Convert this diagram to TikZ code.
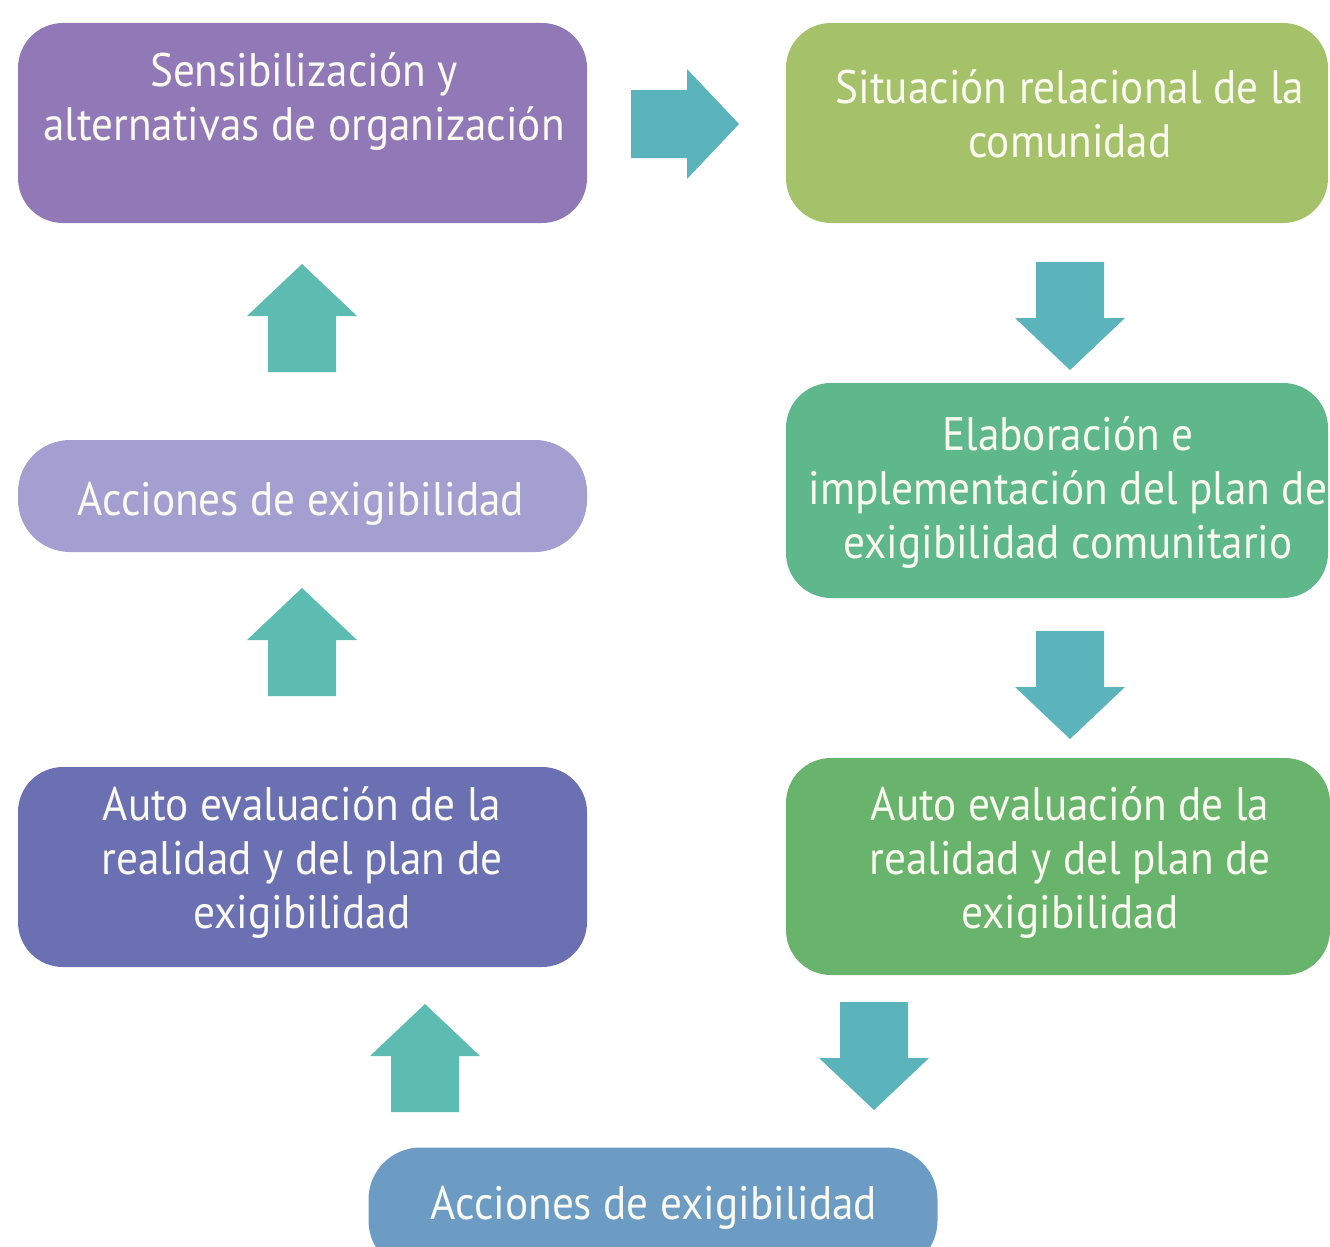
\documentclass[tikz,border=0pt]{standalone}
\usepackage{fontspec}
\setmainfont{PT Sans}[FakeStretch=0.92]
\definecolor{cPurple}{HTML}{9079B6}
\definecolor{cOlive}{HTML}{A5C26A}
\definecolor{cTeal}{HTML}{5FB88C}
\definecolor{cGreen}{HTML}{68B46C}
\definecolor{cIndigo}{HTML}{6B70B3}
\definecolor{cLilac}{HTML}{A49FD0}
\definecolor{cSteel}{HTML}{6C9BC3}
\definecolor{arrUp}{HTML}{5DBCB1}
\definecolor{arrDown}{HTML}{5BB4BC}
\definecolor{txtCol}{HTML}{FAFAF0}
\tikzset{
  box/.style={rounded corners=45pt, inner sep=0pt, draw=none},
  pill/.style={rounded corners=52pt, inner sep=0pt, draw=none},
  txt/.style={text=txtCol, align=center, inner sep=0pt, anchor=base,
    font=\fontsize{47}{54}\selectfont},
  blockup/.pic={\fill (-34,54) -- (-34,-2) -- (-55,-2) -- (0,-54) -- (55,-2) -- (34,-2) -- (34,54) -- cycle;}
}
\begin{document}
\begin{tikzpicture}[x=1pt,y=-1pt]
\fill[white] (0,0) rectangle (1330,1247);
\clip (0,0) rectangle (1330,1247);
% boxes
\node[box, fill=cPurple, minimum width=569pt, minimum height=200pt] (b1) at (302.5,123) {};
\node[box, fill=cOlive, minimum width=542pt, minimum height=200pt] (b2) at (1057,123) {};
\node[box, fill=cTeal, minimum width=542pt, minimum height=215pt] (b3) at (1057,490.5) {};
\node[box, fill=cGreen, minimum width=544pt, minimum height=217pt] (b4) at (1058,866.5) {};
\node[box, fill=cIndigo, minimum width=569pt, minimum height=200pt] (b5) at (302.5,867) {};
\node[pill, fill=cLilac, minimum width=569pt, minimum height=112pt] (b6) at (302.5,496) {};
\node[pill, fill=cSteel, minimum width=569pt, minimum height=125pt] (b7) at (653,1210) {};
% texts (anchor = baseline of last line)
\node[txt] (t1) at (304,140) {Sensibilización y\\alternativas de organización};
\node[txt] (t2) at (1070,157) {Situación relacional de la\\comunidad};
\node[txt] (t3) at (1068,558) {Elaboración e\\implementación del plan de\\exigibilidad comunitario};
\node[txt] (t4) at (1070,928) {Auto evaluación de la\\realidad y del plan de\\exigibilidad};
\node[txt] (t5) at (302,928) {Auto evaluación de la\\realidad y del plan de\\exigibilidad};
\node[txt] (t6) at (301,515) {Acciones de exigibilidad};
\node[txt] (t7) at (654,1219) {Acciones de exigibilidad};
% block arrows
\pic[fill=arrDown, rotate=-90] (aR) at (685,124) {blockup};
\pic[fill=arrDown, rotate=180] (aD1) at (1070,316) {blockup};
\pic[fill=arrDown, rotate=180] (aD2) at (1070,685) {blockup};
\pic[fill=arrDown, rotate=180] (aD3) at (874,1056) {blockup};
\pic[fill=arrUp] (aU1) at (302,318) {blockup};
\pic[fill=arrUp] (aU2) at (302,642) {blockup};
\pic[fill=arrUp] (aU3) at (425,1058) {blockup};
\end{tikzpicture}
\end{document}
